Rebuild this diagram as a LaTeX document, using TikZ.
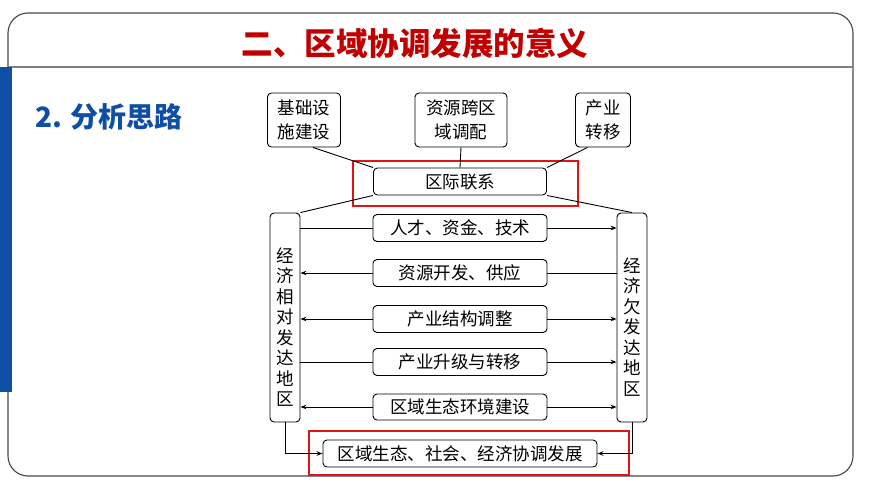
\documentclass[tikz,border=0pt]{standalone}
\usepackage{fontspec}
\setmainfont{Noto Sans CJK SC}
\usetikzlibrary{arrows.meta,calc}
\definecolor{titlered}{RGB}{192,0,0}
\definecolor{boxred}{RGB}{225,20,20}
\definecolor{headblue}{RGB}{14,78,164}
\definecolor{framegray}{RGB}{70,70,70}
\begin{document}
\begin{tikzpicture}[x=1pt,y=-1pt,
  box/.style={draw, rounded corners=4pt, line width=0.9pt, inner sep=0pt, align=center,
    font=\fontsize{17.5}{24}\selectfont},
  vbox/.style={draw, rounded corners=4pt, line width=0.9pt, inner sep=0pt,
    minimum width=30pt, minimum height=209pt},
  vtxt/.style={inner sep=0pt, align=center, font=\fontsize{17.5}{20.5}\selectfont},
  link/.style={line width=0.9pt},
  arr/.style={line width=0.9pt, -{Stealth[length=6pt,width=4.5pt]}},
  redframe/.style={draw=boxred, line width=2.6pt}
]
\useasboundingbox (0,0) rectangle (870,489);
% frame
\draw[framegray, line width=1.1pt, rounded corners=20pt] (8,13) rectangle (853,476);
\draw[gray, line width=1.6pt] (8,67) -- (853,67);
\fill[headblue] (0,67) rectangle (12,392);
% headings
\node[text=titlered, font=\fontsize{31.5}{33}\selectfont\bfseries] (title) at (415,43) {二、区域协调发展的意义};
\node[text=headblue, font=\fontsize{28}{30}\selectfont\bfseries, anchor=west, inner sep=0pt] (sub) at (35,117) {2. 分析思路};
% top boxes
\node[box, minimum width=73pt, minimum height=54pt] (b1) at (304,120) {基础设\\施建设};
\node[box, minimum width=92pt, minimum height=54pt] (b2) at (461,120) {资源跨区\\域调配};
\node[box, minimum width=55pt, minimum height=54pt] (b3) at (603,120) {产业\\转移};
\node[box, minimum width=173pt, minimum height=27pt] (lj) at (460,181.5) {区际联系};
\draw[redframe] (353,161) rectangle (578,206);
% side boxes
\node[vbox] (L) at (285,317.5) {};
\node[vbox] (R) at (632,317.5) {};
\node[vtxt] (Lt) at (285,327) {经\\济\\相\\对\\发\\达\\地\\区};
\node[vtxt] (Rt) at (632,327) {经\\济\\欠\\发\\达\\地\\区};
% middle boxes
\node[box, minimum width=174pt, minimum height=27pt] (m1) at (460,228) {人才、资金、技术};
\node[box, minimum width=174pt, minimum height=27pt] (m2) at (460,273) {资源开发、供应};
\node[box, minimum width=174pt, minimum height=27pt] (m3) at (460,319) {产业结构调整};
\node[box, minimum width=174pt, minimum height=27pt] (m4) at (460,362) {产业升级与转移};
\node[box, minimum width=174pt, minimum height=26pt] (m5) at (460,407) {区域生态环境建设};
% bottom
\node[box, minimum width=274pt, minimum height=27pt] (bb) at (460,453.5) {区域生态、社会、经济协调发展};
\draw[redframe] (309,431) rectangle (629,475);
% links top
\draw[link] ($(b1.south)+(9,0)$) -- (lj.north west);
\draw[link] (b2.south) -- (lj.north);
\draw[link] ($(b3.south)+(-15.5,0)$) -- (lj.north east);
\draw[link] (lj.south west) -- (L.north east);
\draw[link] (lj.south east) -- (R.north);
% arrows
\draw[link] (L.east |- m1.west) -- (m1.west);
\draw[arr] (m1.east) -- (R.west |- m1.east);
\draw[link] (R.west |- m2.east) -- (m2.east);
\draw[arr] (m2.west) -- (L.east |- m2.west);
\draw[arr] (m3.west) -- (L.east |- m3.west);
\draw[arr] (m3.east) -- (R.west |- m3.east);
\draw[link] (L.east |- m4.west) -- (m4.west);
\draw[arr] (m4.east) -- (R.west |- m4.east);
\draw[arr] (m5.west) -- (L.east |- m5.west);
\draw[arr] (m5.east) -- (R.west |- m5.east);
\draw[arr] (L.south) |- (bb.west);
\draw[arr] (R.south) |- (bb.east);
\end{tikzpicture}
\end{document}
